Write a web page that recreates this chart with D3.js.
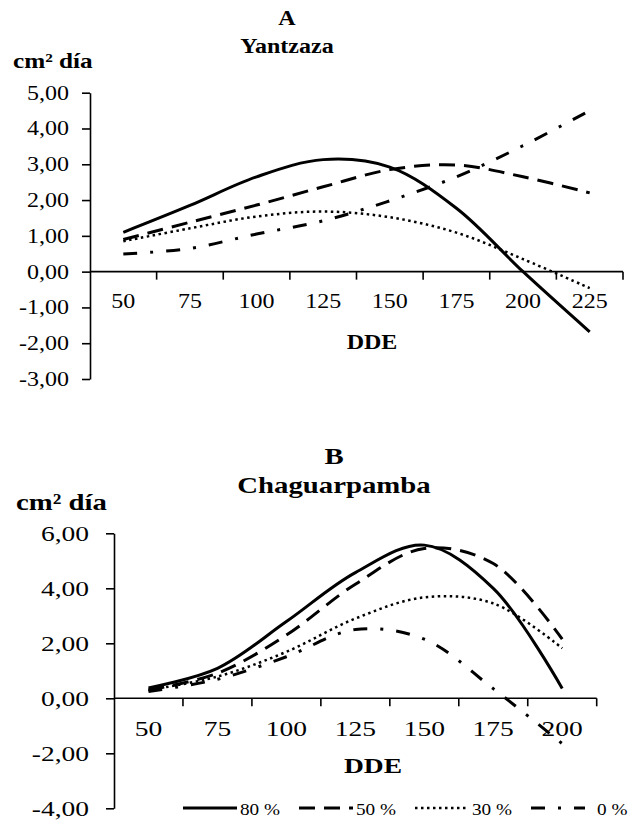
<!DOCTYPE html>
<html>
<head>
<meta charset="utf-8">
<script src="https://cdn.jsdelivr.net/npm/d3@7"></script>
<style>
  body { margin: 0; background: #fff; }
</style>
</head>
<body>
<div id="my_dataviz"></div>
<script>
// data
var daysA = [50, 75, 100, 125, 150, 175, 200, 225];
var a80 = [1.10, 1.85, 2.65, 3.13, 2.92, 1.77, 0.00, -1.68];
var a50 = [0.90, 1.38, 1.86, 2.37, 2.85, 2.98, 2.65, 2.20];
var a30 = [0.85, 1.21, 1.54, 1.68, 1.52, 1.09, 0.35, -0.46];
var a0  = [0.49, 0.65, 1.05, 1.42, 1.98, 2.65, 3.52, 4.50];
var ticksA = [-3, -2, -1, 0, 1, 2, 3, 4, 5];

var daysB = [50, 75, 100, 125, 150, 175, 200];
var b80 = [0.38, 1.09, 2.79, 4.57, 5.57, 4.00, 0.36];
var b50 = [0.30, 0.91, 2.30, 4.15, 5.45, 4.90, 2.15];
var b30 = [0.30, 0.79, 1.69, 2.90, 3.67, 3.45, 1.82];
var b0  = [0.25, 0.69, 1.51, 2.50, 2.15, 0.35, -1.65];
var ticksB = [-4, -2, 0, 2, 4, 6];

var seriesNames = ["80 %", "50 %", "30 %", "0 %"];

// line styles (solid, dashed, dotted, dash-dot)
var styles = [
  {dash: null, w: 3},
  {dash: "16,9", w: 3},
  {dash: "2.5,3.5", w: 2.5},
  {dash: "14,13,3,13", w: 3}
];

var svg = d3.select("#my_dataviz")
  .append("svg")
  .attr("width", 630)
  .attr("height", 820);

var fmt = function (d) { return d.toFixed(2).replace(".", ","); };

// serif font, and text a bit wider like in the picture
function serif(sel, s) {
  sel.style("font-family", "'Liberation Serif'").style("fill", "#000");
  sel.each(function () {
    var len = this.getComputedTextLength();
    d3.select(this)
      .attr("textLength", len * s)
      .attr("lengthAdjust", "spacingAndGlyphs");
  });
}

function drawChart(cfg) {
  var g = svg.append("g");

  var x = d3.scaleBand()
    .domain(cfg.days)
    .range([cfg.left, cfg.right])
    .padding(0);

  var y = d3.scaleLinear()
    .domain(cfg.yDomain)
    .range([cfg.bottom, cfg.top]);

  // y axis
  var yAxis = g.append("g")
    .attr("transform", "translate(" + cfg.left + ",0)")
    .call(d3.axisLeft(y).tickValues(cfg.yTicks).tickSize(8).tickSizeOuter(0).tickFormat(fmt).tickPadding(cfg.yPad));
  yAxis.attr("font-family", null).attr("font-size", null);
  yAxis.select(".domain").attr("stroke", "#000").attr("stroke-width", 1.6);
  yAxis.selectAll(".tick line").attr("stroke", "#000").attr("stroke-width", 1.6);
  yAxis.selectAll("text").style("font-size", cfg.tickFont + "px");
  serif(yAxis.selectAll("text"), cfg.sx);

  // x axis on the zero line, ticks on category boundaries
  var y0 = y(0);
  g.append("line")
    .attr("x1", cfg.left).attr("x2", cfg.right)
    .attr("y1", y0).attr("y2", y0)
    .attr("stroke", "#000").attr("stroke-width", 1.6);

  var bounds = cfg.days.slice(1).map(function (d) { return x(d); }).concat([x.range()[1]]);
  g.selectAll(".xtick")
    .data(bounds)
    .enter().append("line")
    .attr("x1", function (d) { return d; })
    .attr("x2", function (d) { return d; })
    .attr("y1", y0).attr("y2", y0 + 8)
    .attr("stroke", "#000").attr("stroke-width", 1.6);

  var xl = g.selectAll(".xlab")
    .data(cfg.days)
    .enter().append("text")
    .attr("x", function (d) { return x(d) + x.bandwidth() / 2; })
    .attr("y", y0 + cfg.xLabOff)
    .attr("text-anchor", "middle")
    .style("font-size", cfg.tickFont + "px")
    .text(function (d) { return d; });
  serif(xl, cfg.sx);

  // lines
  var line = d3.line()
    .x(function (d, i) { return x(cfg.days[i]) + x.bandwidth() / 2; })
    .y(function (d) { return y(d); })
    .curve(d3.curveCatmullRom.alpha(0.5));

  cfg.series.forEach(function (s, i) {
    g.append("path")
      .datum(s)
      .attr("d", line)
      .attr("fill", "none")
      .attr("stroke", "#000")
      .attr("stroke-width", styles[i].w)
      .attr("stroke-dasharray", styles[i].dash);
  });

  // titles
  var t1 = g.append("text")
    .attr("x", cfg.titleX).attr("y", cfg.letterY)
    .attr("text-anchor", "middle")
    .style("font-size", cfg.titleFont + "px").style("font-weight", "bold")
    .text(cfg.letter);
  var t2 = g.append("text")
    .attr("x", cfg.titleX).attr("y", cfg.titleY)
    .attr("text-anchor", "middle")
    .style("font-size", cfg.titleFont + "px").style("font-weight", "bold")
    .text(cfg.title);
  var yl = g.append("text")
    .attr("x", cfg.unitX).attr("y", cfg.unitY)
    .style("font-size", cfg.unitFont + "px").style("font-weight", "bold")
    .text("cm² día");
  var xt = g.append("text")
    .attr("x", cfg.ddeX).attr("y", cfg.ddeY)
    .attr("text-anchor", "middle")
    .style("font-size", cfg.unitFont - 1 + "px").style("font-weight", "bold")
    .text("DDE");
  serif(t1, cfg.sx); serif(t2, cfg.sx); serif(yl, cfg.sx); serif(xt, cfg.sx);
}

drawChart({
  days: daysA, series: [a80, a50, a30, a0], yDomain: [-3, 5], yTicks: ticksA,
  left: 90, right: 623, top: 92.7, bottom: 379,
  tickFont: 20, yPad: 13, xLabOff: 36, sx: 1.2,
  letter: "A", title: "Yantzaza", titleX: 287, letterY: 25, titleY: 53, titleFont: 20,
  unitX: 13, unitY: 68, unitFont: 21, ddeX: 372, ddeY: 349
});

drawChart({
  days: daysB, series: [b80, b50, b30, b0], yDomain: [-4, 6], yTicks: ticksB,
  left: 114, right: 596.7, top: 533.3, bottom: 808.3,
  tickFont: 22, yPad: 17, xLabOff: 38, sx: 1.25,
  letter: "B", title: "Chaguarpamba", titleX: 334, letterY: 464, titleY: 493, titleFont: 23,
  unitX: 16, unitY: 510, unitFont: 23, ddeX: 373, ddeY: 773
});

// legend for chart B
var legX = d3.scaleLinear().domain([0, 1]).range([183, 299]);
var leg = svg.append("g");
seriesNames.forEach(function (name, i) {
  var x0 = legX(i);
  leg.append("line")
    .attr("x1", x0).attr("x2", x0 + 54)
    .attr("y1", 808).attr("y2", 808)
    .attr("stroke", "#000")
    .attr("stroke-width", styles[i].w)
    .attr("stroke-dasharray", styles[i].dash);
  var t = leg.append("text")
    .attr("x", x0 + (i === 3 ? 66 : 57)).attr("y", 815)
    .style("font-size", "16px")
    .text(name);
  serif(t, 1.2);
});
</script>
</body>
</html>
